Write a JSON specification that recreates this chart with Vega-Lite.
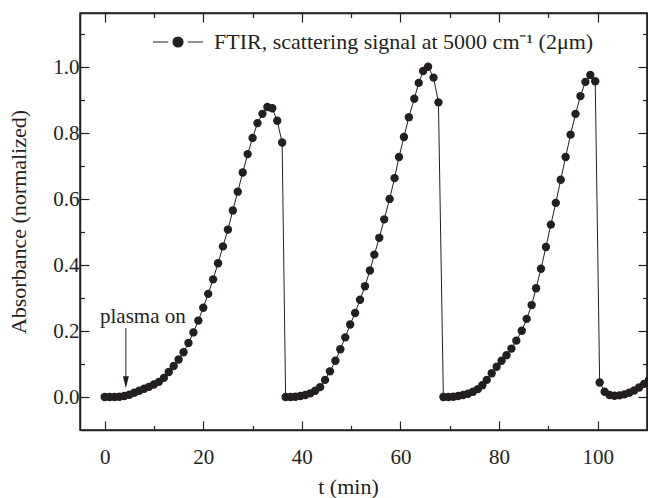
{
  "$schema": "https://vega.github.io/schema/vega-lite/v6.json",
  "width": 567,
  "height": 417,
  "autosize": {"type": "none"},
  "padding": {"left": 80, "top": 13, "right": 1, "bottom": 68},
  "background": "white",
  "config": {
    "view": {"stroke": "#231f20", "strokeWidth": 1.5},
    "font": "Liberation Serif",
    "axis": {
      "labelFont": "Liberation Serif", "titleFont": "Liberation Serif",
      "labelFontSize": 21, "titleFontSize": 22, "titleFontWeight": "normal",
      "labelColor": "#231f20", "titleColor": "#231f20",
      "domainColor": "#231f20", "domainWidth": 1.5,
      "tickColor": "#231f20", "tickWidth": 1.2, "grid": false
    }
  },
  "datasets": {
    "series": [
      {"t": 0, "a": 0}, {"t": 1, "a": 0}, {"t": 2, "a": 0}, {"t": 3, "a": 0.001}, {"t": 4, "a": 0.003},
      {"t": 5, "a": 0.007}, {"t": 6, "a": 0.013}, {"t": 7, "a": 0.019}, {"t": 8, "a": 0.025}, {"t": 9, "a": 0.031},
      {"t": 10, "a": 0.038}, {"t": 11, "a": 0.046}, {"t": 12, "a": 0.058}, {"t": 13, "a": 0.076}, {"t": 14, "a": 0.094},
      {"t": 15, "a": 0.114}, {"t": 16, "a": 0.136}, {"t": 17, "a": 0.164}, {"t": 18, "a": 0.196}, {"t": 19, "a": 0.232},
      {"t": 20, "a": 0.271}, {"t": 21, "a": 0.313}, {"t": 22, "a": 0.357}, {"t": 23, "a": 0.406}, {"t": 24, "a": 0.457},
      {"t": 25, "a": 0.508}, {"t": 26, "a": 0.566}, {"t": 27, "a": 0.623}, {"t": 28, "a": 0.681}, {"t": 29, "a": 0.737},
      {"t": 30, "a": 0.786}, {"t": 31, "a": 0.831}, {"t": 32, "a": 0.859}, {"t": 33, "a": 0.88}, {"t": 34, "a": 0.876},
      {"t": 35, "a": 0.838}, {"t": 36, "a": 0.772},
      {"t": 36.7, "a": 0}, {"t": 37.7, "a": 0}, {"t": 38.7, "a": 0.001}, {"t": 39.7, "a": 0.003}, {"t": 40.7, "a": 0.006},
      {"t": 41.7, "a": 0.011}, {"t": 42.7, "a": 0.019}, {"t": 43.7, "a": 0.03}, {"t": 44.7, "a": 0.052}, {"t": 45.7, "a": 0.078},
      {"t": 46.8, "a": 0.11}, {"t": 47.8, "a": 0.145}, {"t": 48.8, "a": 0.181}, {"t": 49.8, "a": 0.22}, {"t": 50.8, "a": 0.255},
      {"t": 51.8, "a": 0.295}, {"t": 52.8, "a": 0.336}, {"t": 53.8, "a": 0.384}, {"t": 54.7, "a": 0.432}, {"t": 55.7, "a": 0.483},
      {"t": 56.7, "a": 0.539}, {"t": 57.8, "a": 0.601}, {"t": 58.8, "a": 0.664}, {"t": 59.7, "a": 0.728}, {"t": 60.7, "a": 0.789},
      {"t": 61.7, "a": 0.849}, {"t": 62.8, "a": 0.905}, {"t": 63.7, "a": 0.953}, {"t": 64.6, "a": 0.989}, {"t": 65.6, "a": 1.002},
      {"t": 66.7, "a": 0.969}, {"t": 67.7, "a": 0.894},
      {"t": 68.7, "a": 0}, {"t": 69.7, "a": 0}, {"t": 70.7, "a": 0.001}, {"t": 71.7, "a": 0.003}, {"t": 72.7, "a": 0.006},
      {"t": 73.7, "a": 0.01}, {"t": 74.7, "a": 0.016}, {"t": 75.7, "a": 0.024}, {"t": 76.6, "a": 0.036}, {"t": 77.5, "a": 0.052},
      {"t": 78.5, "a": 0.072}, {"t": 79.5, "a": 0.092}, {"t": 80.5, "a": 0.11}, {"t": 81.5, "a": 0.127}, {"t": 82.5, "a": 0.147},
      {"t": 83.5, "a": 0.171}, {"t": 84.6, "a": 0.201}, {"t": 85.6, "a": 0.237}, {"t": 86.6, "a": 0.279}, {"t": 87.5, "a": 0.33},
      {"t": 88.5, "a": 0.389}, {"t": 89.5, "a": 0.455}, {"t": 90.5, "a": 0.523}, {"t": 91.5, "a": 0.589}, {"t": 92.5, "a": 0.659},
      {"t": 93.5, "a": 0.728}, {"t": 94.5, "a": 0.796}, {"t": 95.5, "a": 0.859}, {"t": 96.5, "a": 0.913}, {"t": 97.5, "a": 0.956},
      {"t": 98.5, "a": 0.977}, {"t": 99.5, "a": 0.958},
      {"t": 100.4, "a": 0.044}, {"t": 101.4, "a": 0.016}, {"t": 102.4, "a": 0.006}, {"t": 103.4, "a": 0.004}, {"t": 104.4, "a": 0.005},
      {"t": 105.4, "a": 0.008}, {"t": 106.4, "a": 0.013}, {"t": 107.4, "a": 0.02}, {"t": 108.4, "a": 0.029}, {"t": 109.4, "a": 0.04},
      {"t": 110.4, "a": 0.052}
    ],
    "ann": [{"x": 4.3, "y": 0.209, "y2": 0.04, "hy": 0.045, "tx": -0.94, "ty": 0.224, "label": "plasma on"}]
  },
  "layer": [
    {
      "data": {"name": "series"},
      "mark": {"type": "line", "color": "#231f20", "strokeWidth": 1, "clip": true},
      "encoding": {
        "x": {
          "field": "t", "type": "quantitative",
          "scale": {"domain": [-5, 110], "nice": false, "zero": false},
          "axis": {
            "orient": "bottom", "title": "t (min)",
            "values": [0, 10, 20, 30, 40, 50, 60, 70, 80, 90, 100, 110],
            "labelExpr": "datum.value % 20 === 0 ? datum.label : ''",
            "tickSize": {"condition": {"test": "datum.value % 20 === 0", "value": -9}, "value": -4.5},
            "labelPadding": 25, "titlePadding": 9, "titleX": 268
          }
        },
        "y": {
          "field": "a", "type": "quantitative",
          "scale": {"domain": [-0.1, 1.165], "nice": false, "zero": false},
          "axis": {
            "orient": "left", "title": "Absorbance (normalized)", "format": ".1f",
            "values": [0, 0.1, 0.2, 0.3, 0.4, 0.5, 0.6, 0.7, 0.8, 0.9, 1.0, 1.1],
            "labelExpr": "round(datum.value * 10) % 2 === 0 ? datum.label : ''",
            "tickSize": {"condition": {"test": "round(datum.value * 10) % 2 === 0", "value": -9}, "value": -4.5},
            "labelPadding": 10, "titlePadding": 22
          }
        }
      }
    },
    {
      "data": {"name": "series"},
      "mark": {"type": "point", "filled": true, "shape": "circle", "size": 70, "opacity": 1, "clip": true},
      "encoding": {
        "x": {
          "field": "t", "type": "quantitative",
          "scale": {"domain": [-5, 110], "nice": false, "zero": false},
          "axis": {
            "orient": "top", "title": null, "labels": false,
            "values": [0, 10, 20, 30, 40, 50, 60, 70, 80, 90, 100, 110],
            "tickSize": {"condition": {"test": "datum.value % 20 === 0", "value": -9}, "value": -4.5}
          }
        },
        "y": {
          "field": "a", "type": "quantitative",
          "scale": {"domain": [-0.1, 1.165], "nice": false, "zero": false},
          "axis": {
            "orient": "right", "title": null, "labels": false,
            "values": [0, 0.1, 0.2, 0.3, 0.4, 0.5, 0.6, 0.7, 0.8, 0.9, 1.0, 1.1],
            "tickSize": {"condition": {"test": "round(datum.value * 10) % 2 === 0", "value": -9}, "value": -4.5}
          }
        },
        "color": {
          "datum": "FTIR, scattering signal at 5000 cm⁻¹ (2μm)",
          "type": "nominal",
          "scale": {"range": ["#231f20"]},
          "legend": {
            "orient": "none", "legendX": 72, "legendY": 3, "title": null, "padding": 0,
            "symbolType": "M-1,0L-0.39,0M0.39,0L1,0M0.2,0A0.2,0.2,0,1,1,-0.2,0A0.2,0.2,0,1,1,0.2,0Z",
            "symbolSize": 2500, "symbolStrokeWidth": 1.2, "symbolStrokeColor": "#231f20", "symbolFillColor": "#231f20",
            "labelFont": "Liberation Serif", "labelFontSize": 22, "labelColor": "#231f20", "labelOffset": 10, "labelLimit": 600
          }
        }
      }
    },
    {
      "data": {"name": "ann"},
      "mark": {"type": "rule", "color": "#231f20", "strokeWidth": 1},
      "encoding": {
        "x": {"field": "x", "type": "quantitative", "scale": {"domain": [-5, 110], "nice": false, "zero": false}, "axis": null},
        "y": {"field": "y", "type": "quantitative", "scale": {"domain": [-0.1, 1.165], "nice": false, "zero": false}, "axis": null},
        "y2": {"field": "y2"}
      }
    },
    {
      "data": {"name": "ann"},
      "mark": {"type": "point", "filled": true, "opacity": 1, "color": "#231f20", "size": 144, "shape": "M-0.5,-1L0,1L0.5,-1Z"},
      "encoding": {
        "x": {"field": "x", "type": "quantitative", "scale": {"domain": [-5, 110], "nice": false, "zero": false}, "axis": null},
        "y": {"field": "hy", "type": "quantitative", "scale": {"domain": [-0.1, 1.165], "nice": false, "zero": false}, "axis": null}
      }
    },
    {
      "data": {"name": "ann"},
      "mark": {"type": "text", "align": "left", "baseline": "alphabetic", "font": "Liberation Serif", "fontSize": 21, "color": "#231f20"},
      "encoding": {
        "x": {"field": "tx", "type": "quantitative", "scale": {"domain": [-5, 110], "nice": false, "zero": false}, "axis": null},
        "y": {"field": "ty", "type": "quantitative", "scale": {"domain": [-0.1, 1.165], "nice": false, "zero": false}, "axis": null},
        "text": {"field": "label"}
      }
    }
  ],
  "resolve": {"axis": {"x": "independent", "y": "independent"}}
}
